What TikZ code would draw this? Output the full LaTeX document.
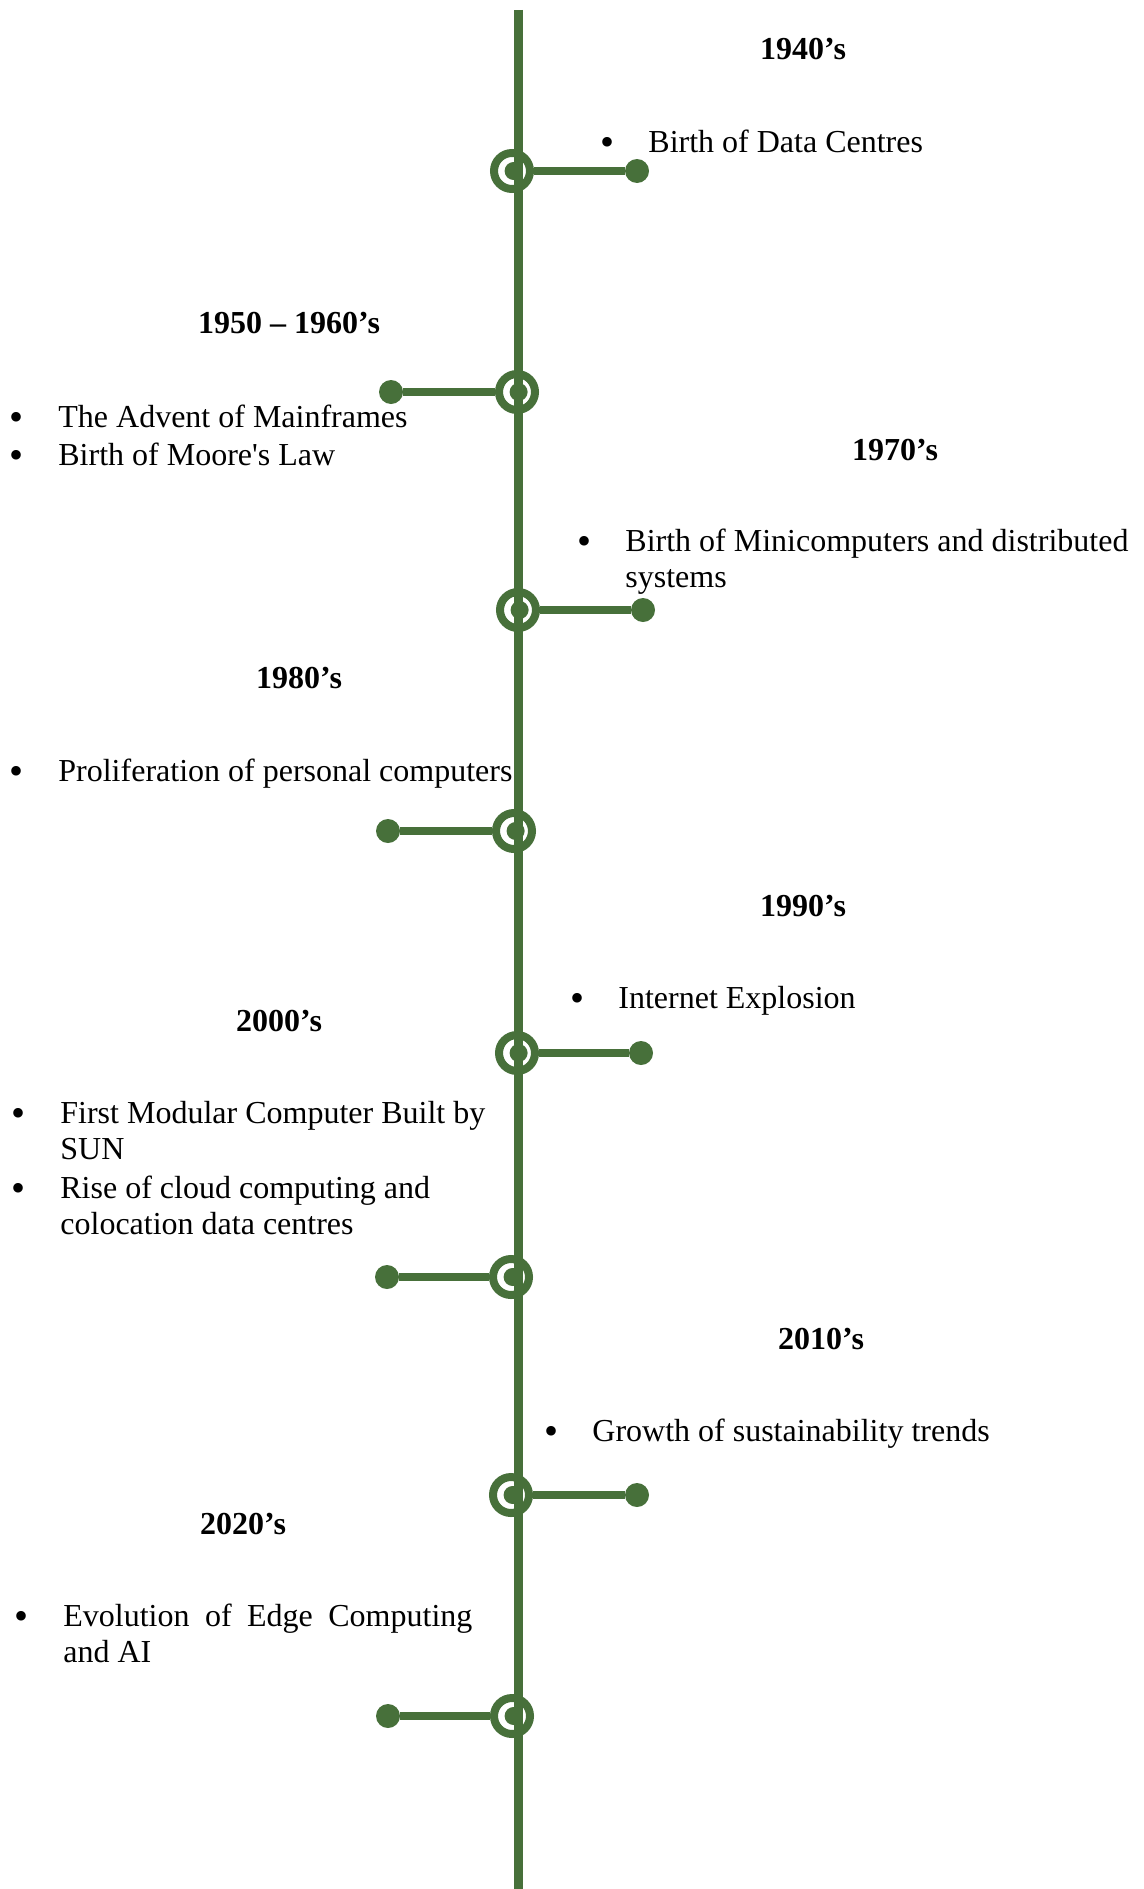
\documentclass[tikz,border=0pt]{standalone}
\usepackage{fontspec}
\setmainfont{Liberation Serif}
\usepackage{tikz}
\definecolor{tlgreen}{RGB}{71,112,58}

\begin{document}
\begin{tikzpicture}[x=0.5pt, y=-0.5pt, font=\fontsize{16pt}{18.4pt}\selectfont,
		hub/.style={circle, draw=tlgreen, line width=4pt, fill=white, minimum size=18pt, inner sep=0pt,
			path picture={\fill[tlgreen] ([xshift=0.8pt]path picture bounding box.center) circle (4.5pt);}},
		tip/.style={circle, fill=tlgreen, minimum size=12pt, inner sep=0pt},
		spine/.style={draw=tlgreen, line width=4.5pt},
		branch/.style={draw=tlgreen, line width=4pt},
		era/.style={font=\fontsize{16pt}{18.4pt}\selectfont\bfseries, anchor=base, inner sep=0pt},
		entry/.style={anchor=base west, inner sep=0pt, align=flush left},
		blt/.style={font=\fontsize{20pt}{20pt}\selectfont, anchor=base, inner sep=0pt, yshift=-1.9pt}]
	\useasboundingbox (0,0) rectangle (1144,1889);
	\node[hub] (m1) at (512,171) {};
	\node[hub] (m2) at (517,392) {};
	\node[hub] (m3) at (518,610) {};
	\node[hub] (m4) at (514,831) {};
	\node[hub] (m5) at (517,1053) {};
	\node[hub] (m6) at (511,1277) {};
	\node[hub] (m7) at (511,1495) {};
	\node[hub] (m8) at (512,1716) {};
	\coordinate (top) at (518,10);
	\coordinate (bottom) at (518,1889);
	\draw[spine] (top) -- (bottom);
	\node[tip] (d1) at (637,171) {};
	\node[tip] (d2) at (391,392) {};
	\node[tip] (d3) at (643,610) {};
	\node[tip] (d4) at (388,831) {};
	\node[tip] (d5) at (641,1053) {};
	\node[tip] (d6) at (387,1277) {};
	\node[tip] (d7) at (637,1495) {};
	\node[tip] (d8) at (388,1716) {};
	\foreach \n in {1,...,8} \draw[branch] (m\n) -- (d\n);

	\node[era] (h1) at (803,60) {1940’s};
	\node[entry] (t1) at (648,152) {Birth of Data Centres};
	\node[blt] (b1) at ([xshift=-20.5pt]t1.base west) {\textbullet};

	\node[era] (h2) at (289,333) {1950 – 1960’s};
	\node[entry] (t2a) at (58,427) {The Advent of Mainframes};
	\node[blt] (b2a) at ([xshift=-20.5pt]t2a.base west) {\textbullet};
	\node[entry] (t2b) at (58,465) {Birth of Moore\textquotesingle s Law};
	\node[blt] (b2b) at ([xshift=-20.5pt]t2b.base west) {\textbullet};

	\node[era] (h3) at (895,460) {1970’s};
	\node[entry, text width=270pt] (t3) at (625,551) {Birth of Minicomputers and distributed\\ systems};
	\node[blt] (b3) at ([xshift=-20.5pt]t3.base west) {\textbullet};

	\node[era] (h4) at (299,688) {1980’s};
	\node[entry] (t4) at (58,781) {Proliferation of personal computers};
	\node[blt] (b4) at ([xshift=-20.5pt]t4.base west) {\textbullet};

	\node[era] (h5) at (803,916) {1990’s};
	\node[entry] (t5) at (618,1008) {Internet Explosion};
	\node[blt] (b5) at ([xshift=-20.5pt]t5.base west) {\textbullet};

	\node[era] (h6) at (279,1031) {2000’s};
	\node[entry, text width=240pt] (t6a) at (60,1123) {First Modular Computer Built by\\ SUN};
	\node[blt] (b6a) at ([xshift=-20.5pt]t6a.base west) {\textbullet};
	\node[entry, text width=240pt] (t6b) at (60,1198) {Rise of cloud computing and\\ colocation data centres};
	\node[blt] (b6b) at ([xshift=-20.5pt]t6b.base west) {\textbullet};

	\node[era] (h7) at (821,1349) {2010’s};
	\node[entry] (t7) at (592,1441) {Growth of sustainability trends};
	\node[blt] (b7) at ([xshift=-20.5pt]t7.base west) {\textbullet};

	\node[era] (h8) at (243,1534) {2020’s};
	\node[entry, text width=204.5pt, align=justify] (t8) at (63,1626) {Evolution of Edge Computing\linebreak and AI};
	\node[blt] (b8) at ([xshift=-20.5pt]t8.base west) {\textbullet};
\end{tikzpicture}
\end{document}
